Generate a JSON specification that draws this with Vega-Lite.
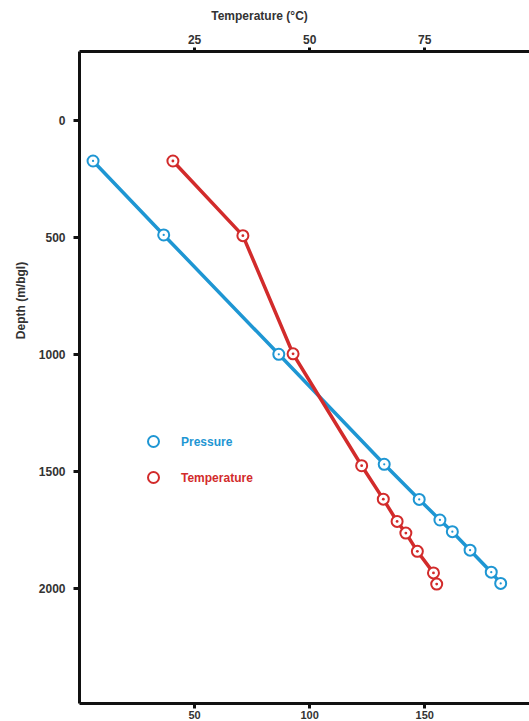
{
  "$schema": "https://vega.github.io/schema/vega-lite/v6.json",
  "width": 450,
  "height": 652,
  "autosize": {"type": "none"},
  "padding": {"left": 79, "top": 51, "right": 0, "bottom": 18},
  "background": "white",
  "config": {
    "view": {"stroke": null},
    "font": "Liberation Sans",
    "axis": {
      "grid": false,
      "domainColor": "#111",
      "domainWidth": 3,
      "tickColor": "#111",
      "tickWidth": 3,
      "tickSize": 6,
      "labelFont": "Liberation Sans",
      "labelFontSize": 12,
      "labelFontWeight": "bold",
      "labelColor": "#333",
      "titleFont": "Liberation Sans",
      "titleFontSize": 12,
      "titleFontWeight": "bold",
      "titleColor": "#333"
    },
    "legend": {
      "title": null,
      "orient": "none",
      "legendX": 68,
      "legendY": 384,
      "padding": 0,
      "symbolType": "circle",
      "symbolSize": 121,
      "symbolStrokeWidth": 2,
      "symbolFillColor": "white",
      "symbolOpacity": 1,
      "labelFont": "Liberation Sans",
      "labelFontSize": 12,
      "labelFontWeight": "bold",
      "labelOffset": 21,
      "rowPadding": 17
    }
  },
  "data": {
    "values": [
      {"series": "Pressure", "depth": 175, "value": 6.1},
      {"series": "Pressure", "depth": 491, "value": 36.8},
      {"series": "Pressure", "depth": 1001, "value": 86.8},
      {"series": "Pressure", "depth": 1471, "value": 132.6},
      {"series": "Pressure", "depth": 1621, "value": 147.8},
      {"series": "Pressure", "depth": 1709, "value": 156.8},
      {"series": "Pressure", "depth": 1759, "value": 162.2},
      {"series": "Pressure", "depth": 1838, "value": 169.9},
      {"series": "Pressure", "depth": 1932, "value": 179.1},
      {"series": "Pressure", "depth": 1980, "value": 183.2},
      {"series": "Temperature", "depth": 175, "value": 20.4},
      {"series": "Temperature", "depth": 494, "value": 35.6},
      {"series": "Temperature", "depth": 999, "value": 46.5},
      {"series": "Temperature", "depth": 1477, "value": 61.4},
      {"series": "Temperature", "depth": 1620, "value": 66.1},
      {"series": "Temperature", "depth": 1715, "value": 69.1},
      {"series": "Temperature", "depth": 1765, "value": 71.0},
      {"series": "Temperature", "depth": 1843, "value": 73.5},
      {"series": "Temperature", "depth": 1935, "value": 77.0},
      {"series": "Temperature", "depth": 1983, "value": 77.7}
    ]
  },
  "encoding": {
    "y": {
      "field": "depth",
      "type": "quantitative",
      "scale": {"domain": [-295, 2491], "reverse": true, "nice": false, "zero": false},
      "axis": {
        "orient": "left",
        "values": [0, 500, 1000, 1500, 2000],
        "format": "d",
        "title": "Depth (m/bgl)",
        "labelPadding": 8,
        "titleX": -59,
        "titleY": 249,
        "titleAngle": -90,
        "titleAlign": "center",
        "titleBaseline": "middle"
      }
    }
  },
  "layer": [
    {
      "transform": [{"filter": "datum.series == 'Pressure'"}],
      "encoding": {
        "x": {
          "field": "value",
          "type": "quantitative",
          "scale": {"domain": [0, 195.5], "nice": false, "zero": false},
          "axis": {"orient": "bottom", "values": [50, 100, 150], "title": null, "labelPadding": 1, "tickSize": 5, "labelFontSize": 11}
        }
      },
      "layer": [
        {"mark": {"type": "line", "strokeWidth": 3.5, "stroke": "#1E96D3"}},
        {
          "mark": {"type": "point", "filled": false, "fill": "white", "fillOpacity": 1, "size": 121, "strokeWidth": 2, "opacity": 1},
          "encoding": {"stroke": {"field": "series", "type": "nominal", "scale": {"domain": ["Pressure", "Temperature"], "range": ["#1E96D3", "#D22B2B"]},
            "legend": {"labelColor": {"expr": "datum.value === 'Pressure' ? '#1E96D3' : '#D22B2B'"}}}}
        },
        {"mark": {"type": "point", "filled": true, "size": 5, "opacity": 1, "strokeWidth": 0, "fill": "#1E96D3"}}
      ]
    },
    {
      "transform": [{"filter": "datum.series == 'Temperature'"}],
      "encoding": {
        "x": {
          "field": "value",
          "type": "quantitative",
          "scale": {"domain": [0, 97.75], "nice": false, "zero": false},
          "axis": {
            "orient": "top",
            "values": [25, 50, 75],
            "title": "Temperature (°C)",
            "labelPadding": 1,
            "tickSize": 4,
            "titleX": 180,
            "titleY": -36,
            "titleAlign": "center",
            "titleBaseline": "middle"
          }
        }
      },
      "layer": [
        {"mark": {"type": "line", "strokeWidth": 3.5, "stroke": "#D22B2B"}},
        {
          "mark": {"type": "point", "filled": false, "fill": "white", "fillOpacity": 1, "size": 121, "strokeWidth": 2, "opacity": 1},
          "encoding": {"stroke": {"field": "series", "type": "nominal", "scale": {"domain": ["Pressure", "Temperature"], "range": ["#1E96D3", "#D22B2B"]},
            "legend": {"labelColor": {"expr": "datum.value === 'Pressure' ? '#1E96D3' : '#D22B2B'"}}}}
        },
        {"mark": {"type": "point", "filled": true, "size": 8, "opacity": 1, "strokeWidth": 0, "fill": "#D22B2B"}}
      ]
    }
  ],
  "resolve": {"scale": {"x": "independent"}}
}
